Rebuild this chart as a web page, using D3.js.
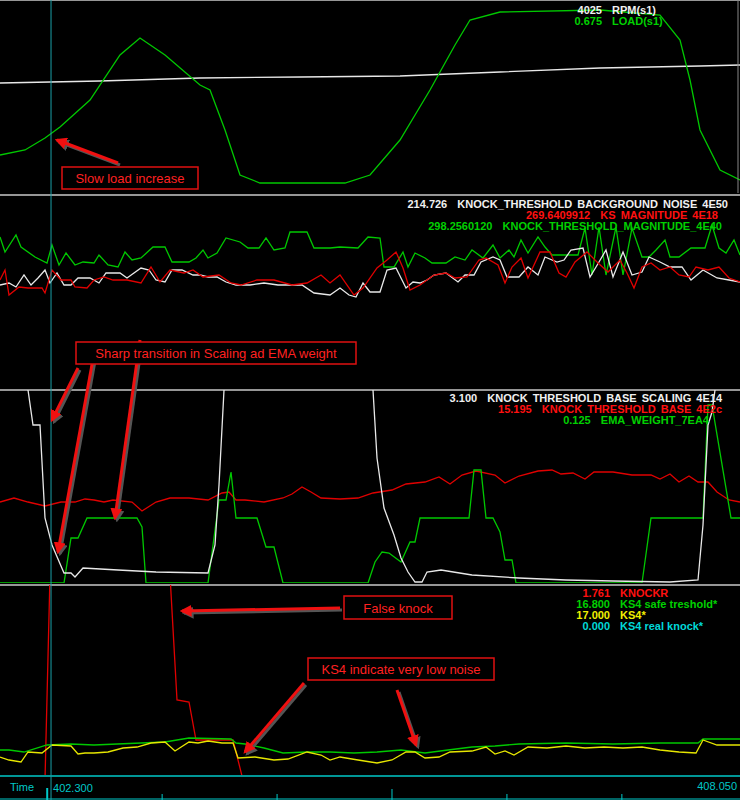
<!DOCTYPE html>
<html>
<head>
<meta charset="utf-8">
<script src="https://cdn.jsdelivr.net/npm/d3@7"></script>
<style>
  body { margin: 0; background: #000; }
  text { font-family: "Liberation Sans", Arial, sans-serif; }
</style>
</head>
<body>
<div id="chart"></div>
<script>
// record index -> time (s); values are per-panel level readings
const recDomain = [0, 740];
const timeStart = 401.873, timeEnd = 408.05, cursorTime = 402.3;

const rpm = [[0,110],[100,112],[200,115],[300,116],[400,117],[500,121],[600,125],[700,127],[740,128]];
const load = [[0,38],[25,43],[45,55],[60,66],[90,93],[120,138],[140,155],[165,138],[200,108],[210,103],[225,63],[240,18],[260,10],[345,10],[370,18],[400,53],[430,103],[455,148],[470,173],[500,181],[600,183],[660,178],[680,153],[690,113],[700,63],[720,23],[740,13]];

const thrMag = [[0,151],[5,136],[16,153],[21,141],[35,131],[47,125],[52,143],[59,123],[66,135],[75,123],[83,126],[94,125],[99,133],[108,123],[118,121],[125,136],[132,128],[141,130],[153,141],[165,141],[172,126],[189,126],[196,130],[203,138],[208,130],[217,135],[226,150],[240,146],[248,140],[259,140],[266,150],[274,138],[285,140],[290,156],[307,156],[314,140],[330,140],[340,141],[358,140],[368,151],[380,150],[384,121],[394,121],[403,136],[408,121],[415,135],[425,130],[432,125],[446,125],[455,131],[465,128],[472,138],[483,130],[493,143],[500,130],[509,138],[514,131],[521,148],[528,135],[538,151],[545,141],[552,133],[578,133],[585,160],[592,113],[599,161],[606,113],[616,161],[623,113],[632,160],[642,131],[649,131],[656,138],[665,148],[670,131],[679,131],[691,140],[705,140],[712,163],[719,140],[726,135],[734,148],[740,133]];
const bgNoise = [[0,103],[9,105],[16,101],[24,113],[31,103],[38,110],[45,118],[50,105],[57,115],[64,103],[71,103],[78,110],[90,110],[99,105],[106,115],[120,115],[127,110],[141,120],[149,118],[156,108],[165,106],[172,118],[182,118],[193,113],[200,113],[208,111],[217,111],[226,106],[236,103],[250,103],[264,105],[278,103],[288,103],[302,103],[314,95],[330,93],[340,100],[349,93],[356,91],[363,105],[370,96],[380,96],[387,118],[396,120],[406,100],[413,106],[420,105],[427,108],[434,113],[446,115],[458,106],[465,113],[474,113],[481,126],[493,131],[500,128],[507,111],[519,111],[528,121],[538,113],[545,131],[557,126],[564,128],[571,138],[583,140],[590,111],[599,126],[606,138],[613,111],[623,136],[632,113],[642,116],[649,131],[660,126],[670,121],[682,121],[691,108],[703,118],[717,110],[729,108],[740,106]];
const ksMag = [[0,108],[5,118],[9,93],[19,101],[28,100],[42,100],[45,95],[52,118],[61,108],[71,108],[75,101],[87,100],[94,108],[104,111],[113,108],[127,108],[141,105],[151,121],[160,106],[170,118],[184,115],[193,118],[203,111],[219,113],[231,105],[241,103],[257,108],[274,108],[292,103],[307,105],[321,113],[330,105],[340,113],[354,93],[363,100],[377,120],[387,128],[396,136],[403,120],[410,98],[420,103],[434,113],[446,115],[455,110],[467,111],[479,128],[486,130],[498,123],[505,105],[512,121],[521,130],[528,110],[540,136],[550,136],[559,115],[566,111],[575,126],[587,136],[597,126],[608,116],[620,128],[627,115],[634,100],[642,121],[651,125],[660,118],[670,121],[679,113],[689,111],[696,121],[708,118],[719,121],[729,110],[740,106]];

const baseScaling = [[0,260],[28,193],[33,158],[40,158],[45,65],[52,38],[64,10],[71,10],[75,6],[83,15],[118,13],[156,11],[208,10],[215,38],[219,98],[224,193],[230,260],[368,260],[373,193],[377,125],[384,75],[394,48],[401,25],[408,11],[415,1],[422,1],[427,11],[441,13],[472,8],[519,5],[566,3],[613,2],[670,1],[698,3],[703,58],[708,158],[712,171],[715,193],[720,260],[740,260]];
const thrBase = [[0,81],[14,85],[28,81],[45,77],[61,81],[75,81],[85,84],[94,83],[104,81],[113,83],[132,81],[142,72],[156,81],[170,85],[189,85],[208,83],[222,90],[229,91],[236,83],[245,83],[264,81],[283,85],[292,89],[302,96],[311,91],[321,85],[340,84],[358,85],[373,90],[392,93],[406,99],[425,101],[439,106],[450,99],[462,108],[476,112],[495,108],[505,100],[519,107],[538,112],[552,113],[561,109],[573,110],[585,104],[594,111],[613,111],[632,108],[651,108],[660,104],[670,109],[679,101],[689,107],[698,101],[708,101],[717,91],[729,83],[740,81]];
const emaWeight = [[0,0],[64,0],[71,45],[78,45],[87,65],[137,65],[142,56],[146,0],[208,0],[219,83],[226,83],[231,111],[236,65],[257,65],[266,36],[274,36],[283,0],[368,0],[375,21],[382,31],[389,30],[401,21],[410,41],[415,41],[420,65],[469,65],[474,113],[481,113],[486,65],[493,65],[500,51],[505,23],[512,23],[516,0],[642,0],[651,65],[703,65],[708,178],[712,178],[731,65],[740,65]];

const knockR = [[0,-5],[45,-5],[50,200],[170,200],[177,75],[189,73],[196,35],[233,35],[243,-5],[740,-5]];
const ksSafe = [[0,25],[9,25],[24,23],[47,30],[71,31],[94,30],[141,32],[165,33],[189,37],[231,36],[236,32],[245,31],[264,27],[283,22],[307,23],[330,23],[354,22],[377,23],[401,25],[425,22],[448,25],[472,28],[495,29],[519,31],[566,32],[613,31],[660,32],[698,32],[703,36],[740,36]];
const ks4 = [[0,18],[9,15],[21,13],[28,23],[42,22],[52,30],[71,29],[78,21],[85,22],[94,22],[108,23],[123,27],[137,28],[151,32],[165,33],[175,24],[189,33],[198,32],[208,34],[222,32],[233,32],[238,17],[255,18],[274,15],[288,16],[307,23],[321,20],[330,15],[340,18],[358,15],[377,12],[392,15],[406,23],[415,23],[425,17],[439,18],[450,23],[472,24],[486,28],[495,21],[505,24],[514,20],[528,28],[547,27],[566,29],[585,27],[604,28],[623,27],[642,28],[660,25],[679,23],[696,22],[703,35],[717,30],[740,30]];

const panels = [
  { top: 0, bottom: 193, series: [{d: rpm, c: "#e8e8e8"}, {d: load, c: "#00c800"}],
    legend: [["4025", "RPM(s1)", "#f0f0f0"], ["0.675", "LOAD(s1)", "#00d000"]], mode: "split", lx: 602, ly: 10 },
  { top: 195, bottom: 388, series: [{d: thrMag, c: "#00c800"}, {d: bgNoise, c: "#e8e8e8"}, {d: ksMag, c: "#e00000"}],
    legend: [["214.726", "KNOCK_THRESHOLD BACKGROUND NOISE 4E50", "#f0f0f0", 728], ["269.6409912", "KS MAGNITUDE 4E18", "#ff1010", 718], ["298.2560120", "KNOCK_THRESHOLD_MAGNITUDE_4E40", "#00d000", 722]], mode: "end", ly: 204 },
  { top: 390, bottom: 583, series: [{d: thrBase, c: "#e00000"}, {d: emaWeight, c: "#00c800"}, {d: baseScaling, c: "#e8e8e8"}],
    legend: [["3.100", "KNOCK THRESHOLD BASE SCALING 4E14", "#f0f0f0", 722], ["15.195", "KNOCK THRESHOLD BASE 4E2c", "#ff1010", 722], ["0.125", "EMA_WEIGHT_7EA4", "#00d000", 709]], mode: "end", ly: 398 },
  { top: 585, bottom: 775, series: [{d: knockR, c: "#e00000"}, {d: ksSafe, c: "#00c800"}, {d: ks4, c: "#e6e600"}],
    legend: [["1.761", "KNOCKR", "#ff1010"], ["16.800", "KS4 safe treshold*", "#00d000"], ["17.000", "KS4*", "#f0f000"], ["0.000", "KS4 real knock*", "#00d8d8"]], mode: "split", lx: 610, ly: 593 }
];

const notes = [
  { text: "Slow load increase", x: 62, y: 167, w: 136, h: 22, arrows: [[118,163,57,140]] },
  { text: "Sharp transition in Scaling ad EMA weight", x: 76, y: 342, w: 280, h: 22, arrows: [[78,368,52,420],[95,348,58,552],[140,340,115,518]] },
  { text: "False knock", x: 344, y: 596, w: 108, h: 23, arrows: [[340,608,182,611]] },
  { text: "KS4 indicate very low noise", x: 308, y: 658, w: 186, h: 22, arrows: [[304,683,245,752],[397,690,416,745]] }
];

const W = 740, H = 800;
const svg = d3.select("#chart").append("svg").attr("width", W).attr("height", H)
  .style("background", "#000");

const x = d3.scaleLinear().domain(recDomain).range([0, W]);
const tScale = d3.scaleLinear().domain([timeStart, timeEnd]).range([0, 738]);

const defs = svg.append("defs");
panels.forEach((p, i) => {
  defs.append("clipPath").attr("id", "clip" + i)
    .append("rect").attr("x", 0).attr("y", p.top).attr("width", W).attr("height", p.bottom - p.top);
});
defs.append("marker").attr("id", "head").attr("viewBox", "0 0 10 10")
  .attr("refX", 8).attr("refY", 5).attr("markerWidth", 4).attr("markerHeight", 4)
  .attr("orient", "auto-start-reverse")
  .append("path").attr("d", "M0,0L10,5L0,10z").attr("fill", "#f01010");
defs.append("marker").attr("id", "headS").attr("viewBox", "0 0 10 10")
  .attr("refX", 8).attr("refY", 5).attr("markerWidth", 4).attr("markerHeight", 4)
  .attr("orient", "auto-start-reverse")
  .append("path").attr("d", "M0,0L10,5L0,10z").attr("fill", "#555");

panels.forEach((p, i) => {
  const y = d3.scaleLinear().domain([0, p.bottom - p.top]).range([p.bottom, p.top]);
  svg.append("line").attr("x1", 0).attr("x2", W).attr("y1", p.top).attr("y2", p.top)
    .attr("stroke", "#c8c8c8").attr("stroke-width", 1.5);
  const g = svg.append("g").attr("clip-path", `url(#clip${i})`);
  const line = d3.line().x(d => x(d[0])).y(d => y(d[1]));
  p.series.forEach(s => {
    g.append("path").datum(s.d).attr("d", line)
      .attr("fill", "none").attr("stroke", s.c).attr("stroke-width", 1.3);
  });
  const lg = svg.append("g").style("font-size", "11px").style("font-weight", "bold");
  p.legend.forEach((e, j) => {
    const ty = p.ly + j * 11 + 4;
    if (p.mode === "split") {
      lg.append("text").attr("x", p.lx).attr("y", ty).attr("text-anchor", "end").attr("fill", e[2]).text(e[0]);
      lg.append("text").attr("x", p.lx + 10).attr("y", ty).attr("fill", e[2]).text(e[1]);
    } else {
      const t = lg.append("text").attr("x", e[3]).attr("y", ty).attr("text-anchor", "end").attr("fill", e[2])
        .style("word-spacing", "2px");
      t.append("tspan").text(e[0] + "\u00a0\u00a0" + e[1]);
    }
  });
});

// right border of the top panel
svg.append("line").attr("x1", 738).attr("x2", 738).attr("y1", 0).attr("y2", 193).attr("stroke", "#888");

// time axis strip
svg.append("line").attr("x1", 0).attr("x2", W).attr("y1", 776).attr("y2", 776).attr("stroke", "#00c8c8").attr("stroke-width", 1.5);
svg.append("line").attr("x1", 0).attr("x2", W).attr("y1", 799).attr("y2", 799).attr("stroke", "#00c8c8");
const ticks = d3.range(0, 6).map(k => timeStart + 0.395 + k * 0.962);
svg.append("g").selectAll("line").data(ticks).join("line")
  .attr("x1", d => tScale(d)).attr("x2", d => tScale(d))
  .attr("y1", (d, k) => k === 0 ? 788 : k === 3 ? 789 : 794).attr("y2", 800)
  .attr("stroke", "#00c8c8").attr("stroke-width", (d, k) => k === 0 ? 2 : 1);
svg.append("text").attr("x", 10).attr("y", 791).attr("fill", "#00c8c8").style("font-size", "11px").text("Time");
svg.append("text").attr("x", tScale(cursorTime) + 2).attr("y", 792).attr("fill", "#00c8c8").style("font-size", "11px").text(cursorTime.toFixed(3));
svg.append("text").attr("x", 737).attr("y", 790).attr("text-anchor", "end").attr("fill", "#00c8c8").style("font-size", "11px").text(timeEnd.toFixed(3));

// cursor
svg.append("line").attr("x1", tScale(cursorTime)).attr("x2", tScale(cursorTime)).attr("y1", 0).attr("y2", 800)
  .attr("stroke", "#1aa0a8").attr("stroke-width", 1);

// annotations
const ag = svg.append("g");
notes.forEach(n => {
  n.arrows.forEach(a => {
    ag.append("line").attr("x1", a[0] + 2).attr("y1", a[1] + 2).attr("x2", a[2] + 2).attr("y2", a[3] + 2)
      .attr("stroke", "#555").attr("stroke-width", 3).attr("marker-end", "url(#headS)");
    ag.append("line").attr("x1", a[0]).attr("y1", a[1]).attr("x2", a[2]).attr("y2", a[3])
      .attr("stroke", "#f01010").attr("stroke-width", 3).attr("marker-end", "url(#head)");
  });
  ag.append("rect").attr("x", n.x).attr("y", n.y).attr("width", n.w).attr("height", n.h)
    .attr("fill", "#000").attr("stroke", "#e01010").attr("stroke-width", 1.5);
  ag.append("text").attr("x", n.x + n.w / 2).attr("y", n.y + n.h / 2 + 5).attr("text-anchor", "middle")
    .attr("fill", "#ff2020").style("font-size", "13px").text(n.text);
});
</script>
</body>
</html>
